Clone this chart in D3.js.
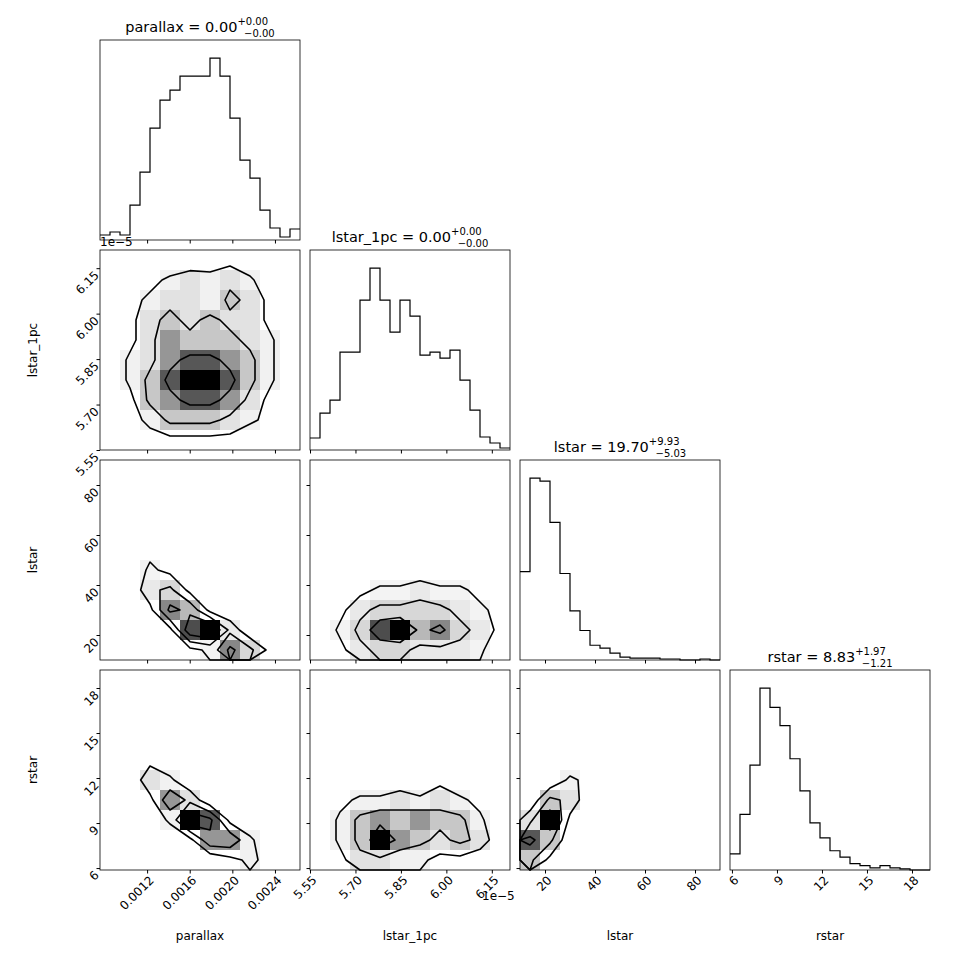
<!DOCTYPE html>
<html><head><meta charset="utf-8">
<script src="https://cdn.jsdelivr.net/npm/d3@7"></script>
<style>body{margin:0;background:#fff}text{font-family:"DejaVu Sans",sans-serif}</style>
</head><body><svg id="c" width="970" height="970"></svg>
<script>
// variables, axis ranges (lstar_1pc in units of 1e-5)
const NAMES = ["parallax", "lstar_1pc", "lstar", "rstar"];
const DOMAINS = [[0.000758, 0.002635], [5.55, 6.21], [10, 90], [5.87, 19.2]];
const TICKS = [[0.0012, 0.0016, 0.0020, 0.0024], [5.55, 5.70, 5.85, 6.00, 6.15], [20, 40, 60, 80], [6, 9, 12, 15, 18]];
const TICK_FMT = [d3.format(".4f"), d3.format(".2f"), d3.format("d"), d3.format("d")];
const TITLES = [["0.00", "+0.00", "−0.00"], ["0.00", "+0.00", "−0.00"], ["19.70", "+9.93", "−5.03"], ["8.83", "+1.97", "−1.21"]];

// 1D histograms, 20 bins across each range
const HIST_PARALLAX = [5, 8, 5, 35, 68, 112, 140, 150, 164, 164, 164, 182, 164, 122, 80, 62, 30, 12, 3, 11];
const HIST_LSTAR1PC = [12, 37, 50, 98, 98, 150, 182, 150, 118, 150, 134, 95, 98, 92, 100, 70, 40, 13, 7, 2];
const HIST_LSTAR = [90, 185, 182, 140, 88, 50, 30, 15, 12, 7, 3, 2, 2, 2, 1, 1, 0, 0, 1, 0];
const HIST_RSTAR = [15, 52, 98, 170, 152, 135, 104, 74, 44, 30, 18, 12, 6, 4, 2, 4, 2, 1, 0, 0];
const HISTS = [HIST_PARALLAX, HIST_LSTAR1PC, HIST_LSTAR, HIST_RSTAR];

// 2D density grids 10x10, first row = top (high y)
const G_1PC_PAR = [
 [0,0,0,0,0,1,1,0,0,0],[0,0,1,2,3,2,3,2,0,0],[0,1,2,3,3,2,4,3,1,0],[0,1,3,4,3,4,3,3,1,0],
 [0,1,3,5,4,4,4,3,2,0],[0,2,3,5,6,6,5,4,2,0],[0,2,4,6,7,7,6,4,2,0],[0,1,4,5,6,6,5,3,1,0],
 [0,1,2,4,4,4,3,2,1,0],[0,0,1,1,1,1,1,0,0,0]];
const G_LSTAR_PAR = [
 [0,0,0,0,0,0,0,0,0,0],[1,0,0,0,0,0,0,0,0,0],[1,0,0,0,0,0,0,0,0,0],[0,1,0,0,0,0,0,0,0,0],
 [0,1,1,0,0,0,0,0,0,0],[0,0,2,1,0,0,0,0,0,0],[0,0,3,4,1,0,0,0,0,0],[0,0,1,6,5,1,0,0,0,0],
 [0,0,0,1,7,8,3,0,0,0],[0,0,0,0,1,2,6,4,1,0]];
const G_RSTAR_PAR = [
 [1,0,0,0,0,0,0,0,0,0],[1,0,0,0,0,0,0,0,0,0],[0,1,0,0,0,0,0,0,0,0],[0,1,0,0,0,0,0,0,0,0],
 [0,0,1,0,0,0,0,0,0,0],[0,0,3,2,0,0,0,0,0,0],[0,0,1,5,3,0,0,0,0,0],[0,0,0,2,7,6,1,0,0,0],
 [0,0,0,0,1,5,5,2,0,0],[0,0,0,0,0,0,1,2,1,0]];
const G_LSTAR_1PC = [
 [0,0,0,0,0,0,0,0,0,0],[0,0,0,0,0,0,0,0,0,0],[0,0,0,0,0,0,0,0,0,0],[0,0,0,0,0,0,0,0,0,0],
 [0,0,0,0,0,0,0,0,0,0],[0,0,0,0,0,0,0,0,0,0],[0,0,1,2,2,3,2,2,1,0],[0,1,3,4,4,4,4,3,2,1],
 [0,2,4,7,8,5,6,4,3,1],[0,1,3,4,4,3,3,3,2,0]];
const G_RSTAR_1PC = [
 [0,0,0,0,0,0,0,0,0,0],[0,0,0,0,0,0,0,0,0,0],[0,0,0,0,0,0,0,0,0,0],[0,0,0,0,0,0,0,0,0,0],
 [0,0,0,0,0,0,0,0,0,0],[0,0,0,0,0,0,1,0,0,0],[0,1,2,2,3,2,3,2,1,0],[0,2,4,5,4,5,4,4,2,0],
 [0,2,4,7,5,4,3,4,3,0],[0,1,3,3,2,2,1,1,0,0]];
const G_RSTAR_LSTAR = [
 [0,0,0,0,0,0,0,0,0,0],[0,0,0,0,0,0,0,0,0,0],[0,0,0,0,0,0,0,0,0,0],[0,0,0,0,0,0,0,0,0,0],
 [0,0,0,1,0,0,0,0,0,0],[0,0,2,1,0,0,0,0,0,0],[0,4,3,0,0,0,0,0,0,0],[3,7,1,0,0,0,0,0,0,0],
 [6,4,0,0,0,0,0,0,0,0],[4,1,0,0,0,0,0,0,0,0]];
const GRIDS = {"1,0": G_1PC_PAR, "2,0": G_LSTAR_PAR, "3,0": G_RSTAR_PAR,
  "2,1": G_LSTAR_1PC, "3,1": G_RSTAR_1PC, "3,2": G_RSTAR_LSTAR};
const LEVELS = [1.6, 3.5, 5.5];

const svg = d3.select("#c");
const size = 200, gap = 10, marginLeft = 100, marginTop = 40;

function panel(row, col) {
  const x0 = marginLeft + col * (size + gap), y0 = marginTop + row * (size + gap);
  const g = svg.append("g").attr("transform", `translate(${x0},${y0})`);
  const xs = d3.scaleLinear().domain(DOMAINS[col]).range([0, size]);
  let ys;
  if (row == col) {
    const h = HISTS[col];
    ys = d3.scaleLinear().domain([0, d3.max(h) * 1.1]).range([size, 0]);
    const [lo, hi] = DOMAINS[col], w = (hi - lo) / h.length;
    const pts = [];
    h.forEach((v, i) => { pts.push([lo + i * w, v]); pts.push([lo + (i + 1) * w, v]); });
    g.append("path").attr("fill", "none").attr("stroke", "#000").attr("stroke-width", 1.2)
      .attr("d", d3.line().x(d => xs(d[0])).y(d => ys(d[1]))(pts));
    const t = TITLES[col];
    const tt = g.append("text").attr("x", size / 2).attr("y", -8).attr("text-anchor", "middle")
      .attr("font-size", 14.5);
    tt.append("tspan").text(NAMES[col] + " = " + t[0]);
    tt.append("tspan").attr("font-size", 10).attr("dy", -7).text(t[1]);
    tt.append("tspan").attr("font-size", 10).attr("dx", -24).attr("dy", 12).text(t[2]);
  } else {
    ys = d3.scaleLinear().domain(DOMAINS[row]).range([size, 0]);
    const grid = GRIDS[row + "," + col];
    const n = 10, [xl, xh] = DOMAINS[col], [yl, yh] = DOMAINS[row];
    const gx = v => xs(xl + v * (xh - xl) / n), gy = v => ys(yh - v * (yh - yl) / n);
    const mx = d3.max(grid.flat());
    grid.forEach((r, j) => r.forEach((v, i) => {
      if (v <= 1) return;
      g.append("rect").attr("x", gx(i)).attr("y", gy(j)).attr("width", gx(i + 1) - gx(i))
        .attr("height", gy(j + 1) - gy(j)).attr("fill", d3.interpolateGreys(0.05 + 0.95 * Math.pow(v / mx, 2.2)));
    }));
    const cs = d3.contours().size([n, n]).thresholds(LEVELS)(grid.flat());
    const path = d3.geoPath(d3.geoTransform({point: function(px, py) { this.stream.point(gx(px), gy(py)); }}));
    g.selectAll(".ct").data(cs).join("path").attr("d", path).attr("fill", "none")
      .attr("stroke", "#000").attr("stroke-width", 1.6).attr("stroke-linejoin", "round");
  }
  g.append("rect").attr("width", size).attr("height", size).attr("fill", "none").attr("stroke", "#000").attr("stroke-width", 0.8);
  // x ticks
  const xa = g.append("g").attr("transform", `translate(0,${size})`)
    .call(d3.axisBottom(xs).tickValues(TICKS[col]).tickSize(3.5).tickFormat(row == 3 ? TICK_FMT[col] : ""));
  xa.select(".domain").remove();
  xa.selectAll("text").attr("font-size", 12).attr("text-anchor", "end").attr("font-family", "DejaVu Sans")
    .attr("y", 0).attr("transform", "translate(4,8) rotate(-45)").attr("dy", "0.35em").attr("dx", "0");
  if (row != col) {
    const ya = g.append("g").call(d3.axisLeft(ys).tickValues(TICKS[row]).tickSize(3.5).tickFormat(col == 0 ? TICK_FMT[row] : ""));
    ya.select(".domain").remove();
    ya.selectAll("text").attr("font-size", 12).attr("font-family", "DejaVu Sans")
      .attr("transform", "translate(0,2) rotate(-45)").attr("x", -4).attr("dy", "0.3em");
  }
}

for (let r = 0; r < 4; r++) for (let c = 0; c <= r; c++) panel(r, c);

// axis labels
NAMES.forEach((nm, i) => {
  svg.append("text").attr("x", marginLeft + i * (size + gap) + size / 2).attr("y", 940)
    .attr("text-anchor", "middle").attr("font-size", 12).text(nm);
  if (i > 0) svg.append("text").attr("transform", `translate(37,${marginTop + i * (size + gap) + size / 2}) rotate(-90)`)
    .attr("text-anchor", "middle").attr("font-size", 12).text(nm);
});
svg.append("text").attr("x", 100).attr("y", 246).attr("font-size", 12).text("1e−5");
svg.append("text").attr("x", 482).attr("y", 900).attr("font-size", 12).text("1e−5");
</script></body></html>
